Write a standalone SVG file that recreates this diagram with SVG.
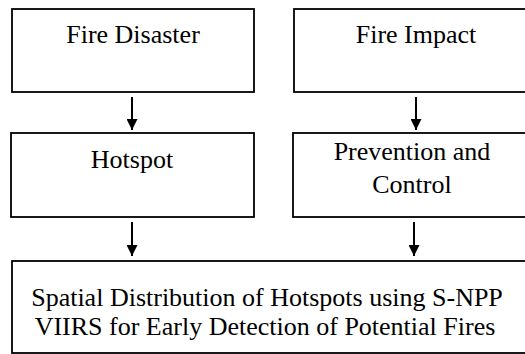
<svg xmlns="http://www.w3.org/2000/svg" width="525" height="354" viewBox="0 0 525 354">
  <style>
    .box { fill: #ffffff; stroke: #000000; stroke-width: 1.8; }
    .lbl { font-family: 'Liberation Serif', 'Times New Roman', serif; font-size: 26px; fill: #000000; text-anchor: middle; }
    .link { stroke: #000000; stroke-width: 2; fill: none; marker-end: url(#head); }
  </style>
  <defs>
    <marker id="head" viewBox="0 0 10 10" refX="10" refY="5" markerUnits="userSpaceOnUse" markerWidth="12" markerHeight="11" orient="auto">
      <path d="M0,0 L10,5 L0,10 Z" fill="#000000"/>
    </marker>
  </defs>
  <rect width="525" height="354" fill="#ffffff"/>

  <g id="fire-disaster">
    <rect class="box" x="12" y="9" width="242" height="83"/>
    <text class="lbl" x="133" y="43">Fire Disaster</text>
  </g>
  <g id="fire-impact">
    <rect class="box" x="294" y="9" width="240" height="83"/>
    <text class="lbl" x="416" y="43">Fire Impact</text>
  </g>
  <g id="hotspot">
    <rect class="box" x="11" y="133" width="243" height="84"/>
    <text class="lbl" x="132" y="168">Hotspot</text>
  </g>
  <g id="prevention-control">
    <rect class="box" x="293" y="133" width="241" height="84"/>
    <text class="lbl" x="412" y="160">Prevention and</text>
    <text class="lbl" x="412" y="193">Control</text>
  </g>
  <g id="spatial-distribution">
    <rect class="box" x="12" y="261" width="522" height="92"/>
    <text class="lbl" x="267" y="306">Spatial Distribution of Hotspots using S-NPP</text>
    <text class="lbl" x="265" y="335">VIIRS for Early Detection of Potential Fires</text>
  </g>

  <g id="connectors">
    <line class="link" x1="132" y1="97" x2="132" y2="130"/>
    <line class="link" x1="416" y1="97" x2="416" y2="130"/>
    <line class="link" x1="132" y1="222" x2="132" y2="256"/>
    <line class="link" x1="414" y1="222" x2="414" y2="256"/>
  </g>
</svg>
